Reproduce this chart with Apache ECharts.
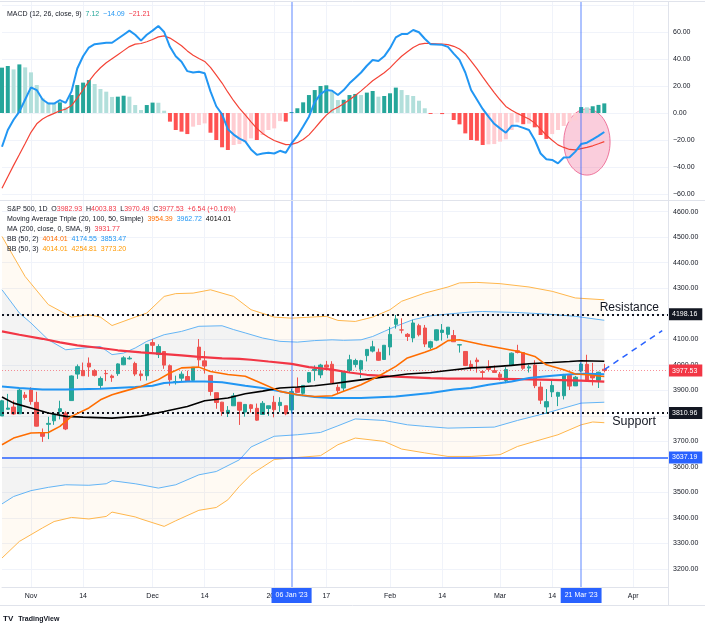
<!DOCTYPE html>
<html>
<head>
<meta charset="utf-8">
<title>S&P 500, 1D</title>
<script src="https://cdn.jsdelivr.net/npm/echarts@6/dist/echarts.min.js"></script>
<style>
html,body{margin:0;padding:0;background:#ffffff;}
#chart{width:705px;height:623px;}
</style>
</head>
<body>
<div id="chart"></div>
<script>
// ---------- categories: trading days ----------
const dates = [
'2022-10-25','2022-10-26','2022-10-27','2022-10-28','2022-10-31',
'2022-11-01','2022-11-02','2022-11-03','2022-11-04','2022-11-07','2022-11-08','2022-11-09','2022-11-10','2022-11-11',
'2022-11-14','2022-11-15','2022-11-16','2022-11-17','2022-11-18','2022-11-21','2022-11-22','2022-11-23','2022-11-25',
'2022-11-28','2022-11-29','2022-11-30','2022-12-01','2022-12-02','2022-12-05','2022-12-06','2022-12-07','2022-12-08','2022-12-09',
'2022-12-12','2022-12-13','2022-12-14','2022-12-15','2022-12-16','2022-12-19','2022-12-20','2022-12-21','2022-12-22','2022-12-23',
'2022-12-27','2022-12-28','2022-12-29','2022-12-30','2023-01-03','2023-01-04','2023-01-05','2023-01-06',
'2023-01-09','2023-01-10','2023-01-11','2023-01-12','2023-01-13','2023-01-17','2023-01-18','2023-01-19','2023-01-20',
'2023-01-23','2023-01-24','2023-01-25','2023-01-26','2023-01-27','2023-01-30','2023-01-31','2023-02-01','2023-02-02','2023-02-03',
'2023-02-06','2023-02-07','2023-02-08','2023-02-09','2023-02-10','2023-02-13','2023-02-14','2023-02-15','2023-02-16','2023-02-17',
'2023-02-21','2023-02-22','2023-02-23','2023-02-24','2023-02-27','2023-02-28','2023-03-01','2023-03-02','2023-03-03',
'2023-03-06','2023-03-07','2023-03-08','2023-03-09','2023-03-10','2023-03-13','2023-03-14','2023-03-15','2023-03-16','2023-03-17',
'2023-03-20','2023-03-21','2023-03-22','2023-03-23','2023-03-24','2023-03-27',
'2023-03-28','2023-03-29','2023-03-30','2023-03-31','2023-04-03','2023-04-04','2023-04-05','2023-04-06','2023-04-10','2023-04-11','2023-04-12'
];

// ---------- OHLC ----------
const opens = [
3799.44,3825.97,3834.69,3808.26,3881.85,
3901.79,3852.90,3733.25,3766.98,3780.71,3817.02,3810.94,3859.89,3963.72,
3977.97,4006.41,3976.82,3919.26,3966.39,3956.23,3965.51,4000.30,4023.34,
4005.36,3964.19,3957.18,4087.14,4040.17,4052.02,3996.63,3933.28,3947.79,3954.17,
3939.29,4069.38,4015.54,3958.37,3890.91,3853.79,3810.47,3839.49,3853.26,3815.11,
3843.34,3829.56,3805.45,3829.06,3853.29,3840.36,3839.74,3823.37,
3910.82,3888.57,3932.35,3977.57,3960.60,3999.28,4002.25,3911.84,3909.04,
3978.14,4001.74,3982.71,4036.08,4053.72,4049.27,4020.85,4070.07,4158.68,4136.69,
4119.57,4105.35,4153.47,4144.25,4068.92,4096.62,4126.70,4119.50,4114.75,4077.39,
4052.35,4001.83,4018.60,3973.24,3992.36,3977.19,3963.34,3938.68,3998.02,
4055.15,4048.26,3987.55,3998.66,3912.77,3835.12,3894.01,3876.74,3878.93,3958.69,
3917.47,3975.89,4002.04,3959.21,3939.21,3982.93
];
const highs = [
3862.85,3886.15,3859.95,3905.42,3893.73,
3911.79,3894.44,3750.59,3796.34,3813.95,3859.40,3818.20,3958.33,4001.48,
4008.97,4028.84,3983.09,3954.33,3979.89,3962.00,4005.88,4033.78,4034.02,
4012.27,3976.77,4080.11,4100.51,4080.48,4052.45,4001.51,3957.57,3974.19,3977.02,
3990.71,4100.96,4053.76,3958.37,3890.91,3854.86,3838.24,3889.82,3853.26,3845.80,
3846.65,3848.32,3858.19,3839.85,3878.46,3873.16,3839.74,3906.19,
3950.57,3919.83,3970.07,3997.76,4003.95,4015.39,4014.16,3922.94,3972.96,
4039.31,4023.92,4019.55,4061.57,4094.21,4063.85,4077.16,4148.95,4195.44,4182.36,
4124.63,4176.54,4160.77,4156.23,4094.36,4138.90,4159.77,4148.11,4136.54,4081.51,
4052.35,4017.37,4028.30,3978.25,4018.05,3997.50,3971.73,3990.84,4048.29,
4078.49,4050.00,4000.41,4017.81,3934.05,3905.05,3937.29,3894.26,3964.46,3958.91,
3956.62,4009.08,4039.49,4007.66,3972.74,4003.83
];
const lows = [
3799.44,3824.07,3803.79,3808.26,3863.18,
3843.80,3758.68,3698.15,3708.84,3764.70,3786.28,3744.22,3859.89,3944.82,
3956.40,3953.17,3954.34,3906.54,3935.98,3933.34,3956.88,3998.66,4020.76,
3955.77,3937.65,3938.58,4050.87,4026.63,3984.49,3918.39,3922.68,3935.83,3933.04,
3935.30,3993.03,3965.65,3879.45,3827.91,3800.04,3795.62,3839.49,3764.49,3797.01,
3813.22,3780.78,3805.45,3800.34,3794.33,3815.77,3802.42,3809.56,
3890.42,3877.29,3928.54,3937.56,3947.67,3984.57,3926.59,3885.54,3897.86,
3971.64,3989.79,3949.06,4013.29,4048.70,4015.55,4020.44,4037.20,4141.88,4123.36,
4093.38,4088.39,4111.35,4069.67,4060.79,4092.67,4095.01,4103.98,4089.49,4047.95,
3995.19,3976.90,3969.19,3943.08,3973.55,3968.98,3939.05,3928.16,3995.17,
4044.61,3980.31,3969.76,3908.70,3846.32,3808.86,3873.63,3838.24,3864.11,3901.27,
3916.89,3971.19,3936.17,3919.05,3909.16,3970.49
];
const closes = [
3859.11,3830.60,3807.30,3901.06,3871.98,
3856.10,3759.69,3719.89,3770.55,3806.80,3828.11,3748.57,3956.37,3992.93,
3957.25,3991.73,3958.79,3946.56,3965.34,3949.94,4003.58,4027.26,4026.12,
3963.94,3957.63,4080.11,4076.57,4071.70,3998.84,3941.26,3933.92,3963.51,3934.38,
3990.56,4019.65,3995.32,3895.75,3852.36,3817.66,3821.62,3878.44,3822.39,3844.82,
3829.25,3783.22,3849.28,3839.50,3824.14,3852.97,3808.10,3895.08,
3892.09,3919.25,3969.61,3983.17,3999.09,3990.97,3928.86,3898.85,3972.61,
4019.81,4016.95,4016.22,4060.43,4070.56,4017.77,4076.60,4119.21,4179.76,4136.48,
4111.08,4164.00,4117.86,4081.50,4090.46,4137.29,4136.13,4147.60,4090.41,4079.09,
3997.34,3991.05,4012.32,3970.04,3982.24,3970.15,3951.39,3981.35,4045.64,
4048.42,3986.37,3992.01,3918.32,3861.59,3855.76,3919.29,3891.93,3960.28,3916.64,
3951.57,4002.87,3936.97,3948.72,3970.99,3977.53
];

// ---------- overlays ([date, value]) ----------
const sma20 = [['2022-10-25',3687],['2022-10-27',3713],['2022-11-01',3733],['2022-11-04',3735],['2022-11-08',3759],['2022-11-10',3798],['2022-11-15',3831],['2022-11-17',3863],['2022-11-21',3883],['2022-11-23',3896],['2022-11-29',3915],['2022-12-02',3942],['2022-12-06',3968],['2022-12-08',3988],['2022-12-13',3991],['2022-12-15',3974],['2022-12-20',3962],['2022-12-23',3955],['2022-12-29',3926],['2023-01-04',3896],['2023-01-09',3883],['2023-01-12',3876],['2023-01-18',3879],['2023-01-20',3896],['2023-01-25',3922],['2023-01-30',3955],['2023-02-02',3994],['2023-02-06',4027],['2023-02-09',4049],['2023-02-13',4066],['2023-02-15',4095],['2023-02-17',4098],['2023-02-24',4079],['2023-03-01',4066],['2023-03-06',4053],['2023-03-09',4033],['2023-03-13',4000],['2023-03-16',3981],['2023-03-20',3964],['2023-03-22',3961],['2023-03-27',3954.39]];
const sma50 = [['2022-10-25',3874],['2022-10-27',3850],['2022-11-01',3831],['2022-11-04',3811],['2022-11-09',3798],['2022-11-14',3795],['2022-11-21',3791],['2022-11-29',3799],['2022-12-05',3817],['2022-12-09',3837],['2022-12-14',3859],['2022-12-20',3870],['2022-12-23',3887],['2022-12-29',3897],['2023-01-04',3909],['2023-01-09',3913],['2023-01-12',3918],['2023-01-18',3926],['2023-01-23',3935],['2023-01-26',3944],['2023-02-01',3955],['2023-02-06',3964],['2023-02-10',3970],['2023-02-15',3978],['2023-02-22',3988],['2023-02-27',3991],['2023-03-03',3998],['2023-03-08',4004],['2023-03-14',4009],['2023-03-17',4013],['2023-03-21',4016],['2023-03-27',4014.01]];
const sma100 = [['2022-10-25',3915],['2022-10-28',3909],['2022-11-03',3903],['2022-11-09',3903],['2022-11-17',3906],['2022-11-28',3913],['2022-12-01',3918],['2022-12-05',3929],['2022-12-09',3935],['2022-12-14',3935],['2022-12-19',3932],['2022-12-23',3918],['2022-12-29',3909],['2023-01-04',3896],['2023-01-09',3883],['2023-01-12',3874],['2023-01-18',3870],['2023-01-25',3870],['2023-02-02',3876],['2023-02-10',3890],['2023-02-16',3903],['2023-02-22',3909],['2023-02-27',3922],['2023-03-03',3935],['2023-03-08',3948],['2023-03-14',3957],['2023-03-16',3961],['2023-03-20',3964],['2023-03-22',3965],['2023-03-27',3962.72]];
const ma200 = [['2022-10-25',4131],['2022-10-28',4118],['2022-11-03',4102],['2022-11-08',4088],['2022-11-11',4076],['2022-11-17',4066],['2022-11-22',4057],['2022-11-29',4049],['2022-12-02',4044],['2022-12-08',4037],['2022-12-13',4031],['2022-12-19',4025],['2022-12-22',4023],['2022-12-27',4020],['2022-12-30',4013],['2023-01-06',4004],['2023-01-11',3991],['2023-01-18',3981],['2023-01-23',3970],['2023-01-26',3961],['2023-02-01',3955],['2023-02-06',3952],['2023-02-10',3948],['2023-02-15',3946],['2023-02-24',3946],['2023-03-06',3944],['2023-03-14',3941],['2023-03-21',3938],['2023-03-27',3934]];
const bb2Upper = [['2022-10-25',4294],['2022-10-28',4203],['2022-11-01',4164],['2022-11-04',4098],['2022-11-09',4059],['2022-11-14',4066],['2022-11-17',4072],['2022-11-21',4040],['2022-11-23',4046],['2022-11-28',4066],['2022-11-30',4092],['2022-12-05',4118],['2022-12-08',4131],['2022-12-13',4151],['2022-12-19',4153],['2022-12-21',4138],['2022-12-23',4125],['2022-12-29',4105],['2023-01-04',4092],['2023-01-09',4089],['2023-01-12',4095],['2023-01-18',4098],['2023-01-20',4096],['2023-01-25',4098],['2023-01-27',4111],['2023-01-31',4131],['2023-02-02',4151],['2023-02-07',4177],['2023-02-10',4192],['2023-02-15',4199],['2023-02-22',4207],['2023-02-24',4209],['2023-03-06',4205],['2023-03-13',4199],['2023-03-20',4190],['2023-03-27',4174.55]];
const bb2Lower = [['2022-10-25',3455],['2022-10-27',3484],['2022-11-01',3507],['2022-11-04',3520],['2022-11-09',3530],['2022-11-15',3528],['2022-11-18',3534],['2022-11-21',3546],['2022-11-28',3534],['2022-11-29',3530],['2022-12-02',3517],['2022-12-07',3530],['2022-12-13',3569],['2022-12-16',3582],['2022-12-22',3628],['2022-12-27',3678],['2023-01-03',3720],['2023-01-09',3726],['2023-01-13',3735],['2023-01-19',3761],['2023-01-24',3788],['2023-01-31',3782],['2023-02-06',3765],['2023-02-09',3759],['2023-02-15',3752],['2023-02-28',3756],['2023-03-06',3782],['2023-03-13',3811],['2023-03-21',3850],['2023-03-27',3853.47]];
const bb3Upper = [['2022-10-25',4503],['2022-10-31',4346],['2022-11-04',4236],['2022-11-10',4187],['2022-11-15',4196],['2022-11-17',4187],['2022-11-21',4154],['2022-11-28',4187],['2022-11-30',4203],['2022-12-05',4268],['2022-12-07',4279],['2022-12-12',4281],['2022-12-15',4294],['2022-12-21',4268],['2022-12-27',4216],['2023-01-03',4187],['2023-01-06',4183],['2023-01-17',4190],['2023-01-19',4174],['2023-01-24',4170],['2023-01-27',4187],['2023-02-01',4216],['2023-02-03',4249],['2023-02-09',4281],['2023-02-15',4305],['2023-02-17',4321],['2023-02-23',4323],['2023-03-01',4318],['2023-03-08',4305],['2023-03-14',4288],['2023-03-20',4262],['2023-03-27',4254.81]];
const bb3Lower = [['2022-10-25',3243],['2022-10-28',3308],['2022-11-03',3361],['2022-11-07',3386],['2022-11-10',3402],['2022-11-15',3396],['2022-11-18',3406],['2022-11-21',3423],['2022-11-28',3404],['2022-11-29',3396],['2022-12-05',3367],['2022-12-07',3389],['2022-12-13',3430],['2022-12-16',3441],['2022-12-20',3471],['2022-12-22',3524],['2022-12-27',3570],['2023-01-03',3629],['2023-01-09',3637],['2023-01-13',3644],['2023-01-19',3687],['2023-01-24',3713],['2023-01-31',3700],['2023-02-03',3670],['2023-02-09',3655],['2023-02-15',3641],['2023-02-22',3641],['2023-03-01',3648],['2023-03-06',3680],['2023-03-09',3700],['2023-03-15',3726],['2023-03-21',3765],['2023-03-23',3776],['2023-03-27',3773.20]];

// ---------- MACD (12, 26, close, 9), one value per bar ----------
const macdLine = [
-25,-12.6,-5,1,10,19,17,10,7,7,
9.5,7.5,16,33,42,48.5,51,51.5,52,52,
55,58,61,58,53.6,58,61,64.4,60,49,
42,38,31,30,30.6,29.4,16,5,-1,-12,
-16,-19,-21,-27,-31,-30,-29.5,-30,-28,-29.4,
-22.5,-17,-10,-2.7,8,14,17,16.5,13.3,17,
22,26,30,35,39.3,38.5,42,48,56,58.5,
58.5,61.5,59.8,55,51,50.7,50.5,49,44,39.3,
30,17,10,3,-2.7,-8,-11.4,-14.6,-9.5,-9.5,
-11,-12.6,-20,-30,-34.3,-34.8,-37.3,-33,-32.8,-28.6,
-23,-22,-19.5,-17,-14.09
];
const signalLine = [
-55.8,-47.2,-38.8,-30.8,-22.6,-14.3,-8,-4.4,-2.1,-0.3,
1.7,2.9,5.5,11,17.2,23.5,29,33.5,37.2,40.2,
43.2,46.2,49.2,51,51.5,52.8,54.4,56.4,57.1,55.5,
52.8,49.8,46,42.8,40.4,38.2,33.8,28,22.2,15.4,
9.1,3.5,-1.4,-6.5,-11.4,-15.1,-18,-20.4,-21.9,-23.4,
-23.2,-22,-19.6,-16.2,-11.4,-6.3,-1.6,2,4.3,6.8,
9.8,13,16.4,20.1,23.9,26.8,29.8,33.4,37.9,42,
45.3,48.5,50.8,51.6,51.5,51.3,51.1,50.7,49.4,47.4,
43.9,38.5,32.8,26.8,20.9,15.1,9.8,4.9,2,-0.3,
-2.4,-4.4,-7.5,-12,-16.5,-20.2,-23.6,-25.5,-27,-27.3,
-26.4,-25.5,-24.3,-22.8,-21.21
];
const macdHist = [
33.6,34.8,32.3,36,33.8,30.1,20.7,10.9,7.7,7.2,
7.9,4.2,13.3,20.7,22.5,24.4,21.5,17.8,15.8,11.9,
12.1,12.8,12.1,5.9,2.2,5.9,7.7,7.6,1.7,-6.4,
-12.6,-13.8,-15.6,-10.1,-8.9,-7.7,-14.6,-20,-25.4,-27.4,
-23.7,-23,-21.7,-18.8,-20,-16.3,-12.6,-11.4,-6,-6.4,
0.7,3.5,7.9,13.3,17,20,20.5,15.8,9.6,9.8,
13.3,14.1,13.3,15.1,16.3,12.1,12.6,14.6,18.8,17,
13.3,12.6,9.1,3.5,-0.7,-0.3,-0.8,-0.2,-5.2,-8.4,
-15.1,-20,-20.5,-23.7,-23.2,-23,-21.2,-19.5,-12.6,-7,
-8.3,-7.9,-10.6,-16.3,-19.2,-15.6,-12.6,-9.6,-6.4,-5.4,
4.4,4.2,5,6,7.12
];

// ---------- drawn levels / annotations ----------
const resistanceLevel = 4198.16;
const supportLevel = 3810.96;
const blueLevel = 3637.19;
const lastPrice = 3977.53;
const ma200Last = 3931.77;
const projection = [['2023-03-27',3981],['2023-04-11',4134]];
const markerDates = ['2023-01-06','2023-03-21'];
const markerLabels = ["06 Jan '23","21 Mar '23"];
const highlight = {date:'2023-03-22', value:-21.5, halfBars:4, halfValue:24.5};

// ---------- tick labels ----------
const xTickDates = ['2022-11-01','2022-11-14','2022-12-01','2022-12-14','2023-01-03','2023-01-17','2023-02-01','2023-02-14','2023-03-01','2023-03-14','2023-04-03'];
const xTickLabels = ['Nov','14','Dec','14','2023','17','Feb','14','Mar','14','Apr'];

// =====================================================
const FONT = '"Liberation Sans", Arial, sans-serif';
const TXT = '#131722';
const GRIDC = '#f0f3fa';
const GL = 2, GR = 37;
const tickMap = {};
xTickDates.forEach((d,i)=>{ tickMap[d] = xTickLabels[i]; });
const isTick = (idx, val) => Object.prototype.hasOwnProperty.call(tickMap, val);
const idxOf = d => dates.indexOf(d);
const fmt2 = v => (v < 0 ? '\u2212' : '') + Math.abs(v).toFixed(2);

const candleData = opens.map((o,i)=>[o, closes[i], lows[i], highs[i]]);
const histData = macdHist.map((v,i)=>{
  const prev = i > 0 ? macdHist[i-1] : v;
  let c;
  if (v >= 0) c = v >= prev ? '#26a69a' : '#b2dfdb';
  else c = v <= prev ? '#ff5252' : '#ffcdd2';
  return {value:v, itemStyle:{color:c}};
});
const lastV = a => a[a.length-1][1];

// polygon between two sampled curves, placed through the axes
function bandFill(upper, lower, color){
  return {
    type:'custom', xAxisIndex:1, yAxisIndex:1, silent:true, z:1,
    data:[[0, 4000]],
    renderItem:(params, api)=>{
      const pts = upper.map(p=>api.coord([idxOf(p[0]), p[1]]))
        .concat(lower.slice().reverse().map(p=>api.coord([idxOf(p[0]), p[1]])));
      return {type:'polygon', shape:{points:pts}, style:{fill:color}};
    }
  };
}
function lineS(data, color, width, z){
  return {type:'line', xAxisIndex:1, yAxisIndex:1, data:data, symbol:'none', smooth:false,
    lineStyle:{color:color, width:width}, z:z||3, silent:true};
}

const chg = closes[closes.length-1] - closes[closes.length-2];
const chgPct = chg / closes[closes.length-2] * 100;
const sgn = v => (v >= 0 ? '+' : '\u2212') + Math.abs(v).toFixed(2);

function rs(color){ return {color:color, fontSize:7, fontFamily:FONT}; }
const richAll = {l:rs(TXT), r:rs('#f23645'), o:rs('#ff6d00'), o2:rs('#ff9800'), b:rs('#2196f3'), k:rs('#000000'), t:rs('#26a69a')};
function legendTitle(text, top){
  return {left:7, top:top, padding:0, text:text, textStyle:{fontSize:7, fontFamily:FONT, fontWeight:'normal', color:TXT, rich:richAll}};
}

const n = opens.length;
const titles = [
  legendTitle(`{l|MACD (12, 26, close, 9)}  {t|${macdHist[n-1].toFixed(2)}}  {b|${fmt2(macdLine[n-1])}}  {r|${fmt2(signalLine[n-1])}}`, 11),
  legendTitle(`{l|S&P 500, 1D}  {l|O}{r|${opens[n-1].toFixed(2)}}  {l|H}{r|${highs[n-1].toFixed(2)}}  {l|L}{r|${lows[n-1].toFixed(2)}}  {l|C}{r|${closes[n-1].toFixed(2)}}  {r|${sgn(chg)} (${sgn(chgPct)}%)}`, 206),
  legendTitle(`{l|Moving Average Triple (20, 100, 50, Simple)}  {o|${lastV(sma20).toFixed(2)}}  {b|${lastV(sma100).toFixed(2)}}  {k|${lastV(sma50).toFixed(2)}}`, 216),
  legendTitle(`{l|MA (200, close, 0, SMA, 9)}  {r|${ma200Last.toFixed(2)}}`, 225.5),
  legendTitle(`{l|BB (50, 2)}  {o|${lastV(sma50).toFixed(2)}}  {b|${lastV(bb2Upper).toFixed(2)}}  {b|${lastV(bb2Lower).toFixed(2)}}`, 235.3),
  legendTitle(`{l|BB (50, 3)}  {o2|${lastV(sma50).toFixed(2)}}  {o2|${lastV(bb3Upper).toFixed(2)}}  {o2|${lastV(bb3Lower).toFixed(2)}}`, 245.3),
  {left:3, top:610, padding:0, text:'{b|TV} {l|TradingView}', textStyle:{rich:{b:{fontSize:8, fontWeight:'bold', color:'#131722', fontFamily:FONT}, l:{fontSize:7, color:'#131722', fontFamily:FONT}}}}
];

function priceBox(value, bg){
  return {show:true, position:'end', distance:0, formatter:()=>value.toFixed(2), backgroundColor:bg, color:'#ffffff',
    padding:[3,5,2,4], fontSize:7, fontFamily:FONT};
}

const option = {
  animation:false,
  backgroundColor:'#ffffff',
  title: titles,
  grid:[
    {left:GL, right:GR, top:5, height:189, outerBoundsMode:'none', containLabel:false},
    {left:GL, right:GR, top:211.7, height:357.3, outerBoundsMode:'none', containLabel:false},
    {left:GL, right:GR, top:2, height:585, outerBoundsMode:'none', containLabel:false}
  ],
  xAxis:[
    {type:'category', gridIndex:0, data:dates, boundaryGap:false, show:false},
    {type:'category', gridIndex:1, data:dates, boundaryGap:false, show:false},
    {type:'category', gridIndex:2, data:dates, boundaryGap:false,
      axisLine:{show:true, lineStyle:{color:'#e0e3eb', width:1}},
      axisTick:{show:false},
      axisLabel:{interval:isTick, formatter:v=>tickMap[v]||'', color:TXT, fontSize:7, fontFamily:FONT, margin:6},
      splitLine:{show:true, interval:isTick, lineStyle:{color:GRIDC, width:1}}
    }
  ],
  yAxis:[
    {type:'value', gridIndex:0, position:'right', min:-60, max:80, interval:20,
      axisLine:{show:false}, axisTick:{show:false},
      axisLabel:{formatter:v=> v>60 ? '' : fmt2(v), color:TXT, fontSize:7, fontFamily:FONT, margin:5, showMinLabel:true, showMaxLabel:true},
      splitLine:{lineStyle:{color:GRIDC, width:1}}},
    {type:'value', gridIndex:1, position:'right', min:3200, max:4600, interval:100,
      axisLine:{show:false}, axisTick:{show:false},
      axisLabel:{formatter:v=>v.toFixed(2), color:TXT, fontSize:7, fontFamily:FONT, margin:5, showMinLabel:true, showMaxLabel:true},
      splitLine:{lineStyle:{color:GRIDC, width:1}}},
    {type:'value', gridIndex:2, min:0, max:1, show:false}
  ],
  graphic:[
    {type:'line', id:'topBorder', shape:{x1:0, y1:1.5, x2:705, y2:1.5}, style:{stroke:'#e0e3eb', lineWidth:1}, z:50, silent:true},
    {type:'line', id:'paneSep', shape:{x1:0, y1:200.5, x2:705, y2:200.5}, style:{stroke:'#e0e3eb', lineWidth:1}, z:50, silent:true},
    {type:'line', id:'axisSep', shape:{x1:668.5, y1:1.5, x2:668.5, y2:605}, style:{stroke:'#e0e3eb', lineWidth:1}, z:50, silent:true},
    {type:'line', id:'bottomBorder', shape:{x1:0, y1:605.5, x2:705, y2:605.5}, style:{stroke:'#e0e3eb', lineWidth:1}, z:50, silent:true}
  ],
  series:[
    // MACD pane
    {type:'bar', xAxisIndex:0, yAxisIndex:0, data:histData, barWidth:4, silent:true, z:2},
    {type:'line', xAxisIndex:0, yAxisIndex:0, data:signalLine, symbol:'none', lineStyle:{color:'#f44336', width:1.2}, z:3, silent:true},
    {type:'line', xAxisIndex:0, yAxisIndex:0, data:macdLine, symbol:'none', lineStyle:{color:'#2196f3', width:2}, z:4, silent:true},
    // Bollinger fills: cream outer rings, grey inner band
    bandFill(bb3Upper, bb2Upper, 'rgba(255,165,50,0.06)'),
    bandFill(bb2Lower, bb3Lower, 'rgba(255,165,50,0.06)'),
    bandFill(bb2Upper, bb2Lower, 'rgba(125,125,125,0.095)'),
    lineS(bb3Upper, '#ffb74d', 1),
    lineS(bb3Lower, '#ffb74d', 1),
    lineS(bb2Upper, '#64b5f6', 1),
    lineS(bb2Lower, '#64b5f6', 1),
    // candles
    {type:'candlestick', xAxisIndex:1, yAxisIndex:1, data:candleData, barWidth:4, silent:true, z:4,
      itemStyle:{color:'#26a69a', color0:'#ef5350', borderColor:'#26a69a', borderColor0:'#ef5350', borderWidth:1},
      markLine:{silent:true, symbol:['none','none'], animation:false,
        data:[
          {yAxis:lastPrice, lineStyle:{color:'rgba(242,54,69,0.55)', type:[1,2], width:1}, label:priceBox(lastPrice,'#f23645')},
          {yAxis:blueLevel, lineStyle:{color:'#2962ff', type:'solid', width:1.5}, label:priceBox(blueLevel,'#2962ff')},
          {yAxis:resistanceLevel, lineStyle:{color:'#131722', type:[2,3], width:2}, label:priceBox(resistanceLevel,'#131722')},
          {yAxis:supportLevel, lineStyle:{color:'#131722', type:[2,3], width:2}, label:priceBox(supportLevel,'#131722')}
        ]}
    },
    // moving averages
    lineS(ma200, '#f23645', 2.2, 5),
    lineS(sma100, '#2196f3', 2, 5),
    lineS(sma50, '#000000', 1.6, 6),
    lineS(sma20, '#ff6d00', 1.6, 6),
    {type:'line', xAxisIndex:1, yAxisIndex:1, data:projection, symbol:'none', lineStyle:{color:'#2962ff', width:1.5, type:[6,5]}, z:6, silent:true,
      markLine:{silent:true, symbol:['none','none'], animation:false,
        data:[
          {yAxis:resistanceLevel, lineStyle:{color:'rgba(0,0,0,0)', width:1}, label:{show:true, position:'insideEndTop', formatter:'Resistance', color:TXT, fontSize:12, fontFamily:FONT, distance:1, padding:[0,8,0,0]}},
          {yAxis:supportLevel, lineStyle:{color:'rgba(0,0,0,0)', width:1}, label:{show:true, position:'insideEndBottom', formatter:'Support', color:TXT, fontSize:12.5, fontFamily:FONT, distance:2, padding:[0,10,0,0]}}
        ]}},
    // vertical markers across both panes
    {type:'line', xAxisIndex:2, yAxisIndex:2, data:[], symbol:'none', silent:true, z:7,
      markLine:{silent:true, symbol:['none','none'], animation:false,
        data: markerDates.map((d,i)=>({xAxis:d, lineStyle:{color:'rgba(41,98,255,0.5)', width:1.5, type:'solid'},
          label:{show:true, position:'start', distance:1, formatter:markerLabels[i], backgroundColor:'#2962ff', color:'#ffffff', fontSize:7, fontFamily:FONT, padding:[4,4,4,4]}}))
      }}
  ]
};

const chart = echarts.init(document.getElementById('chart'), null, {renderer:'canvas', width:705, height:623});
chart.setOption(option);

// highlight ellipse on the MACD pane, placed through the axes
const hi = idxOf(highlight.date);
const c0 = chart.convertToPixel({xAxisIndex:0, yAxisIndex:0}, [hi, highlight.value]);
const cx1 = chart.convertToPixel({xAxisIndex:0, yAxisIndex:0}, [hi + highlight.halfBars, highlight.value]);
const cy1 = chart.convertToPixel({xAxisIndex:0, yAxisIndex:0}, [hi, highlight.value + highlight.halfValue]);
chart.setOption({graphic:[{type:'ellipse', id:'hl', shape:{cx:c0[0], cy:c0[1], rx:Math.abs(cx1[0]-c0[0]), ry:Math.abs(cy1[1]-c0[1])},
  style:{fill:'rgba(240,98,146,0.32)', stroke:'rgba(233,80,130,0.75)', lineWidth:1}, z:1, silent:true}]});
</script>
</body>
</html>
